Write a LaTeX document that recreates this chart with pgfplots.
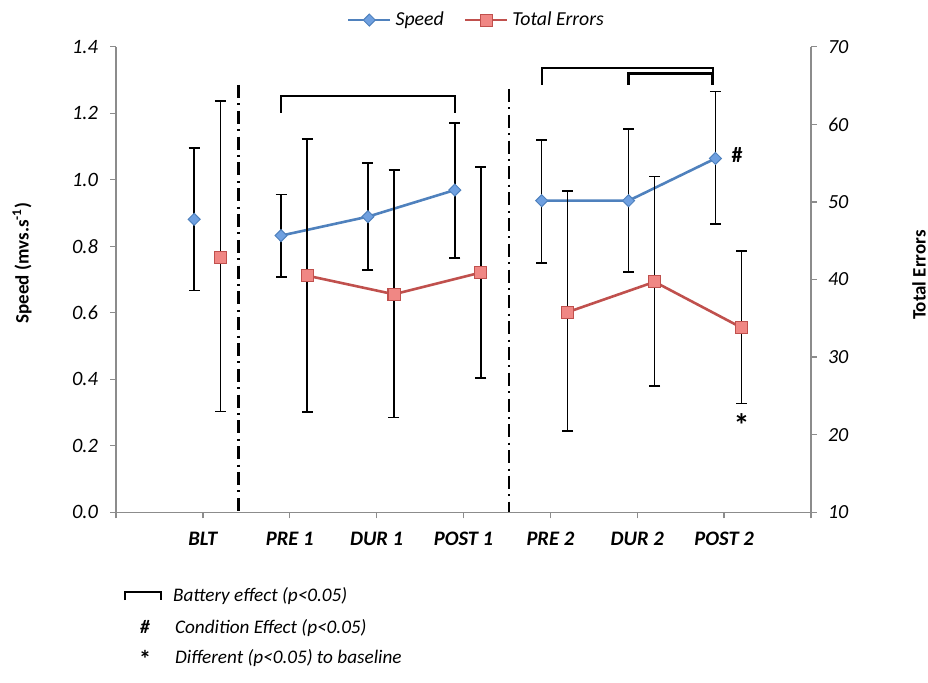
\documentclass[border=0pt]{standalone}
\usepackage{pgfplots}
\pgfplotsset{compat=1.18}
\usepackage{pgfplotstable}
\usepackage{fontspec}
\setmainfont{Carlito}
\definecolor{spdline}{HTML}{4F81BD}
\definecolor{spdfill}{HTML}{6FA0E0}
\definecolor{errline}{HTML}{C0504D}
\definecolor{errfill}{HTML}{F08784}
\definecolor{axgray}{HTML}{8C8C8C}

% Speed (x = category - 0.1), y, +err, -err
\pgfplotstableread{
x y ep em
-0.1 0.881 0.214 0.214
}\speedBLT
\pgfplotstableread{
x y ep em
0.9 0.832 0.124 0.125
1.9 0.889 0.162 0.161
2.9 0.969 0.201 0.205
}\speedA
\pgfplotstableread{
x y ep em
3.9 0.937 0.182 0.187
4.9 0.937 0.215 0.215
5.9 1.064 0.201 0.197
}\speedB
% Total errors (x = category + 0.2)
\pgfplotstableread{
x y ep em
0.2 42.9 20.1 19.9
}\errBLT
\pgfplotstableread{
x y ep em
1.2 40.5 17.6 17.6
2.2 38.1 16.0 15.9
3.2 40.9 13.6 13.6
}\errA
\pgfplotstableread{
x y ep em
4.2 35.8 15.6 15.3
5.2 39.7 13.6 13.4
6.2 33.8 9.9 9.8
}\errB

\pgfplotsset{
  common/.style={scale only axis, width=347.5pt, height=232.8pt,
    at={(58pt,-256.15pt)}, anchor=south west, xmin=-1, xmax=7, clip=false,
    axis line style={draw=axgray, line width=0.7pt, -},
    tick style={draw=axgray, line width=0.7pt},
    tick align=outside, major tick length=3pt,
    /pgf/number format/assume math mode=true,
    legend image code/.code={\draw[mark repeat=2,mark phase=2,##1] plot coordinates {(0pt,0pt) (10.5pt,0pt) (21pt,0pt)};}},
  spd/.style={color=spdline, line width=1.3pt, mark=diamond*, mark size=3pt,
    mark options={fill=spdfill, draw=spdline, line width=0.5pt, xscale=1.33}},
  err/.style={color=errline, line width=1.3pt, mark=square*, mark size=3pt,
    mark options={fill=errfill, draw=errline, line width=0.5pt}},
  eb/.style={error bars/y dir=both, error bars/y explicit,
    error bars/error bar style={black, line width=0.75pt},
    error bars/error mark options={rotate=90, black, line width=0.75pt, mark size=2.75pt}},
}

\begin{document}
\begin{tikzpicture}
\path[use as bounding box] (0,0) rectangle (464pt,-341pt);

\begin{axis}[common, ymin=0, ymax=1.4,
  axis x line*=bottom, axis y line*=left, xtick pos=bottom, ytick pos=left,
  xtick={-1,0,1,2,3,4,5,6,7},
  xticklabels={,BLT,PRE 1,DUR 1,POST 1,PRE 2,DUR 2,POST 2,},
  xticklabel style={font=\fontsize{10.3}{12}\selectfont\bfseries\itshape, yshift=-3.5pt},
  ytick={0,0.2,0.4,0.6,0.8,1.0,1.2,1.4},
  yticklabel style={font=\fontsize{10.2}{12}\selectfont\itshape, xshift=-2.5pt},
  y tick label style={/pgf/number format/.cd, fixed, fixed zerofill, precision=1},
]
\addplot[spd, eb, forget plot] table[x=x, y=y, y error plus=ep, y error minus=em] {\speedBLT};
\addplot[spd, eb, forget plot] table[x=x, y=y, y error plus=ep, y error minus=em] {\speedA};
\addplot[spd, eb, forget plot] table[x=x, y=y, y error plus=ep, y error minus=em] {\speedB};
% separators
\draw[black, line width=1.3pt, dash pattern=on 6.5pt off 2.7pt on 1pt off 2.7pt]
  (axis cs:0.41,1.285) -- (axis cs:0.41,0);
\draw[black, line width=1.3pt, dash pattern=on 6.5pt off 2.7pt on 1pt off 2.7pt]
  (axis cs:3.523,1.273) -- (axis cs:3.523,0);
% brackets
\draw[black, line width=0.85pt] (axis cs:0.9,1.201) -- (axis cs:0.9,1.252) -- (axis cs:2.9,1.252) -- (axis cs:2.9,1.201);
\draw[black, line width=0.85pt] (axis cs:3.9,1.285) -- (axis cs:3.9,1.335) -- (axis cs:5.87,1.335) -- (axis cs:5.87,1.285);
\draw[black, line width=1.5pt] (axis cs:4.9,1.285) -- (axis cs:4.9,1.320) -- (axis cs:5.87,1.320) -- (axis cs:5.87,1.285);
% annotations
\node[font=\fontsize{11}{13}\selectfont\bfseries] at (axis cs:6.15,1.074) {\#};
\node[font=\fontsize{16}{18}\selectfont\bfseries, anchor=base, inner sep=0pt] at (axis cs:6.2,0.227) {*};
\end{axis}

\begin{axis}[common, ymin=10, ymax=70,
  axis x line=none, axis y line*=right, ytick pos=right,
  xtick=\empty,
  ytick={10,20,30,40,50,60,70},
  yticklabel style={font=\fontsize{10}{12}\selectfont\itshape, xshift=2pt},
  legend style={at={(0.52,1.0573)}, anchor=center, draw=none, fill=none,
    font=\fontsize{9.9}{12}\selectfont\itshape,
    /tikz/every even column/.append style={column sep=8pt}},
  legend columns=-1,
]
\addlegendimage{spd}
\addlegendentry{Speed}
\addplot[err, eb, forget plot] table[x=x, y=y, y error plus=ep, y error minus=em] {\errBLT};
\addplot[err, eb, forget plot] table[x=x, y=y, y error plus=ep, y error minus=em] {\errA};
\addplot[err, eb, forget plot] table[x=x, y=y, y error plus=ep, y error minus=em] {\errB};
\addlegendimage{err}
\addlegendentry{Total Errors}
\end{axis}

\begin{scope}[x=0.5pt, y=-0.5pt]
\node[rotate=90, font=\fontsize{9.5}{11}\selectfont\bfseries] at (22,263) {Speed (mvs.s\textsuperscript{-1})};
\node[rotate=90, font=\fontsize{9.5}{11}\selectfont\bfseries] at (919,275) {Total Errors};
\draw[black, line width=1pt] (125,600) -- (125,592) -- (161,592) -- (161,600);
\node[anchor=base west, font=\fontsize{9.6}{11}\selectfont\itshape] at (166,601) {Battery effect (p<0.05)};
\node[anchor=base, font=\fontsize{9.6}{11}\selectfont\bfseries\itshape] at (145,633) {\#};
\node[anchor=base west, font=\fontsize{9.6}{11}\selectfont\itshape] at (168,633) {Condition Effect (p<0.05)};
\node[anchor=base, font=\fontsize{12}{13}\selectfont\bfseries] at (145,667) {*};
\node[anchor=base west, font=\fontsize{9.6}{11}\selectfont\itshape] at (168,663) {Different (p<0.05) to baseline};
\end{scope}
\end{tikzpicture}
\end{document}
